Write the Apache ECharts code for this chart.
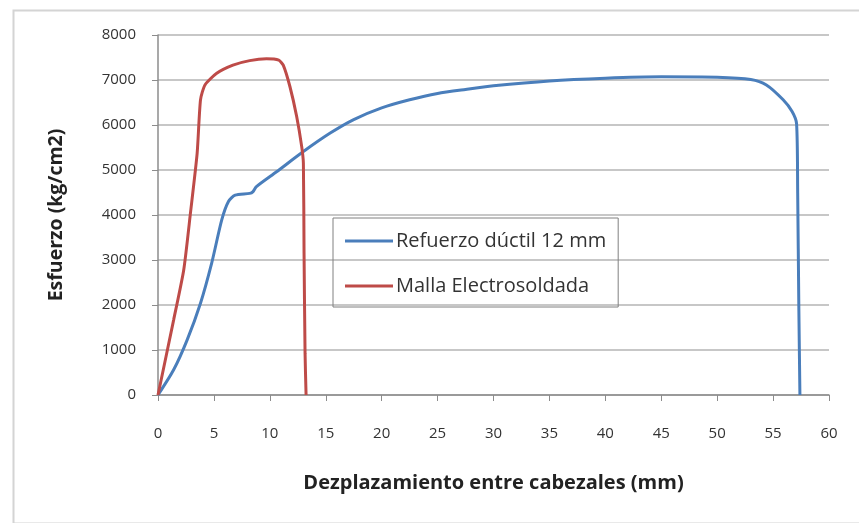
<!DOCTYPE html>
<html>
<head>
<meta charset="utf-8">
<script src="https://cdn.jsdelivr.net/npm/echarts@6/dist/echarts.min.js"></script>
<style>html,body{margin:0;padding:0;background:#fff;}#c{width:859px;height:523px;}</style>
</head>
<body>
<div id="c"></div>
<script>
var seriesNames = ['Refuerzo dúctil 12 mm', 'Malla Electrosoldada'];
var xTitle = 'Dezplazamiento entre cabezales (mm)';
var yTitle = 'Esfuerzo (kg/cm2)';

var blueX = [0, 1.4, 2.6, 3.8, 4.8, 5.7, 6.3, 6.9, 8.2, 8.5, 8.8, 10.6, 13.0, 15.4, 17.5, 20, 22.5, 25, 27.5, 30, 35, 40, 45, 50, 53, 54.4, 55.9, 56.7, 57.1, 57.2, 57.3, 57.4];
var blueY = [0, 560, 1220, 2040, 2930, 3890, 4300, 4440, 4480, 4520, 4630, 4960, 5410, 5820, 6120, 6380, 6560, 6700, 6790, 6870, 6980, 7040, 7070, 7060, 7010, 6890, 6560, 6300, 6030, 4500, 2000, 0];

var redX = [0, 1.4, 2.3, 2.9, 3.5, 3.8, 4.2, 5.25, 6.7, 8.2, 9.7, 10.8, 11.2, 11.8, 12.4, 12.85, 13.0, 13.06, 13.15, 13.24];
var redY = [0, 1670, 2780, 4040, 5370, 6560, 6890, 7150, 7330, 7430, 7470, 7440, 7330, 6850, 6190, 5520, 5150, 3150, 930, 0];

function pairs(xs, ys) { return xs.map(function (x, i) { return [x, ys[i]]; }); }

var chart = echarts.init(document.getElementById('c'), null, { renderer: 'canvas' });
var font = '"Open Sans", "Liberation Sans", sans-serif';
chart.setOption({
  animation: false,
  backgroundColor: '#fff',
  graphic: [{
    type: 'rect', left: 11, top: 8,
    shape: { x: 0, y: 0, width: 860, height: 513 },
    style: { fill: 'none', stroke: '#d4d4d4', lineWidth: 2 }
  }],
  grid: { left: 158, right: 30, top: 35, bottom: 128 },
  legend: {
    orient: 'vertical',
    left: 333, top: 218,
    itemWidth: 48, itemHeight: 3, itemGap: 23,
    padding: [12, 12, 10, 12],
    borderColor: '#808080', borderWidth: 1,
    icon: 'rect',
    textStyle: { fontFamily: font, fontSize: 20, lineHeight: 22, color: '#333', padding: [0, 0, 0, -2] },
    data: seriesNames
  },
  xAxis: {
    type: 'value', min: 0, max: 60, interval: 5,
    name: xTitle, nameLocation: 'middle', nameGap: 78,
    nameTextStyle: { fontFamily: font, fontSize: 20, fontWeight: 'bold', color: '#222' },
    axisLine: { show: true, lineStyle: { color: '#8c8c8c', width: 1.5 } },
    axisTick: { show: true, length: 6, lineStyle: { color: '#8c8c8c' } },
    axisLabel: { fontFamily: font, fontSize: 15, color: '#333', margin: 31 },
    splitLine: { show: false }
  },
  yAxis: {
    type: 'value', min: 0, max: 8000, interval: 1000,
    name: yTitle, nameLocation: 'middle', nameGap: 92, nameRotate: 90,
    nameTextStyle: { fontFamily: font, fontSize: 19.5, fontWeight: 'bold', color: '#222' },
    axisLine: { show: true, lineStyle: { color: '#8c8c8c', width: 1.5 } },
    axisTick: { show: true, length: 6, lineStyle: { color: '#8c8c8c' } },
    axisLabel: { fontFamily: font, fontSize: 15, color: '#333', margin: 22, formatter: function (v) { return String(v); } },
    splitLine: { show: true, lineStyle: { color: '#b4b4b4', width: 1.5 } }
  },
  series: [
    { name: seriesNames[0], type: 'line', showSymbol: false, smooth: 0.25,
      data: pairs(blueX, blueY), lineStyle: { color: '#4a7ebb', width: 3 }, itemStyle: { color: '#4a7ebb' } },
    { name: seriesNames[1], type: 'line', showSymbol: false, smooth: 0.2,
      data: pairs(redX, redY), lineStyle: { color: '#be4b48', width: 3 }, itemStyle: { color: '#be4b48' } }
  ]
});
</script>
</body>
</html>
